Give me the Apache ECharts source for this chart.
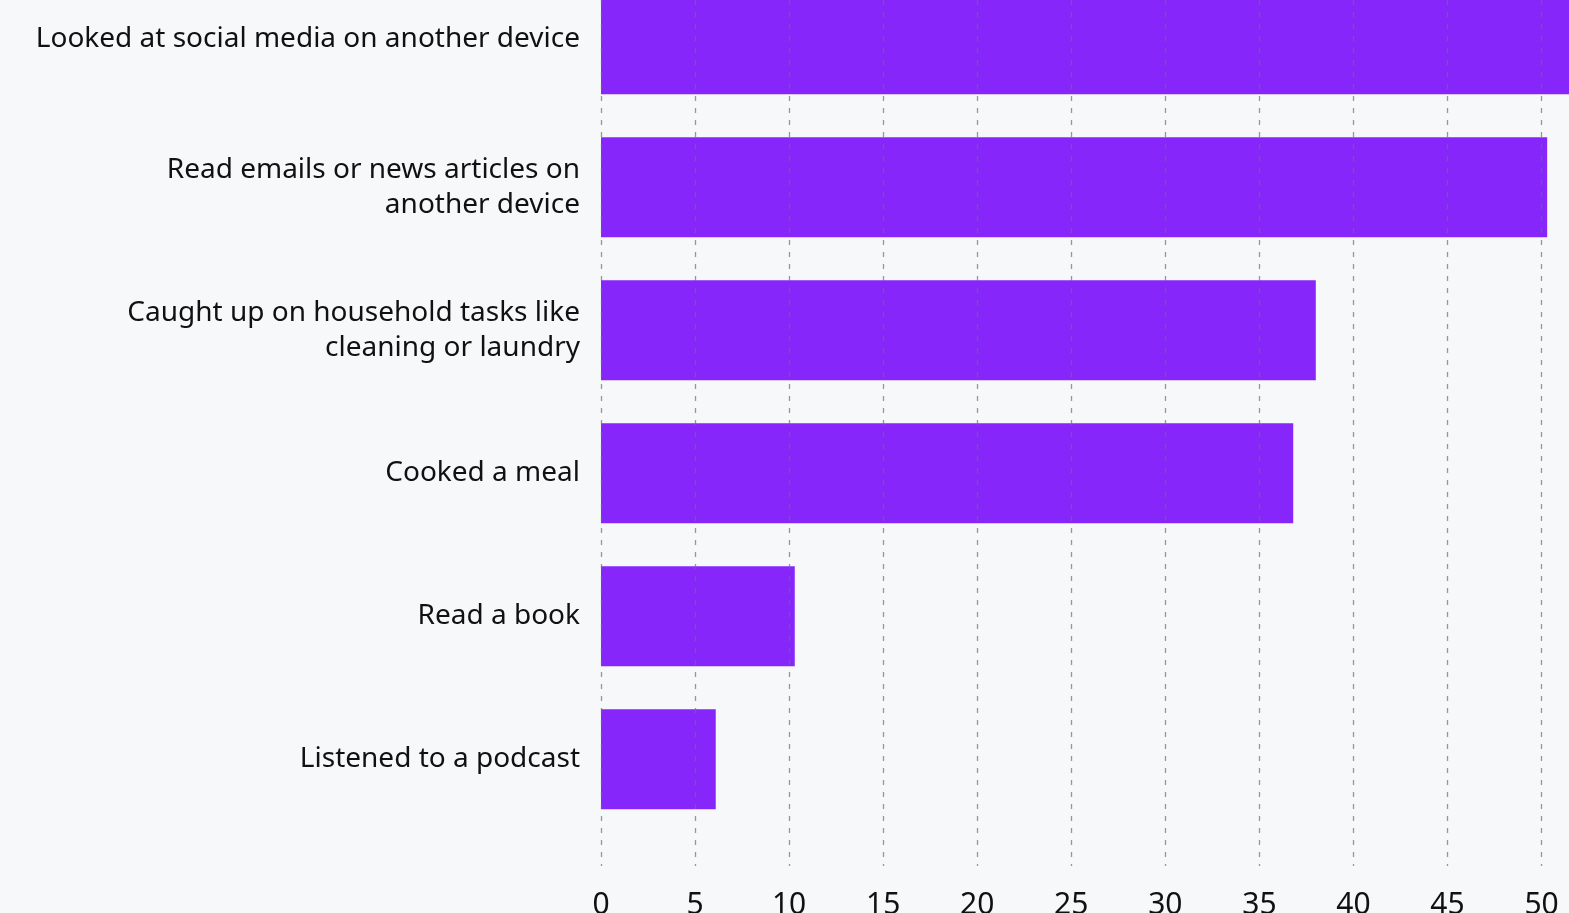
<!DOCTYPE html>
<html>
<head>
<meta charset="utf-8">
<script src="https://cdn.jsdelivr.net/npm/echarts@6/dist/echarts.min.js"></script>
<style>
html,body{margin:0;padding:0;background:#f7f8fa;}
#chart{width:1569px;height:913px;}
</style>
</head>
<body>
<div id="chart"></div>
<script>
const categories = [
  "Looked at social media on another device",
  "Read emails or news articles on\nanother device",
  "Caught up on household tasks like\ncleaning or laundry",
  "Cooked a meal",
  "Read a book",
  "Listened to a podcast"
];
const values = [52, 50.3, 38, 36.8, 10.3, 6.1];
const xMin = 0, xMax = 51.46, xInterval = 5;

const FONT = "Noto Sans";
const chart = echarts.init(document.getElementById('chart'), null, {renderer: 'canvas'});
const plotLeft = 601;

chart.setOption({
  backgroundColor: '#f7f8fa',
  animation: false,
  grid: [
    {left: plotLeft, right: 0, top: 44.3, bottom: 153.7, containLabel: false, outerBoundsMode: 'none'},
    {left: plotLeft, right: 0, top: 0, bottom: 47, containLabel: false, outerBoundsMode: 'none'}
  ],
  xAxis: [
    {gridIndex: 0, type: 'value', min: xMin, max: xMax, interval: xInterval, show: false},
    {gridIndex: 1, type: 'value', min: xMin, max: xMax, interval: xInterval, z: 10,
     axisLine: {show: false}, axisTick: {show: false},
     axisLabel: {color: '#111', fontFamily: FONT, fontSize: 30, margin: 24, showMaxLabel: false},
     splitLine: {show: true, showMaxLine: false, lineStyle: {color: 'rgba(110,110,110,0.7)', width: 1.3, type: [5, 7]}}}
  ],
  yAxis: [
    {gridIndex: 0, type: 'category', data: categories, inverse: true, boundaryGap: false,
     axisLine: {show: false}, axisTick: {show: false}, splitLine: {show: false},
     axisLabel: {color: '#111', fontFamily: FONT, fontSize: 28, lineHeight: 35, margin: 21, align: 'right',
       formatter: (v, i) => i === 0 ? '{up|' + v + '}' : v,
       rich: {up: {fontFamily: FONT, fontSize: 28, color: '#111', lineHeight: 35, padding: [0, 0, 10, 0]}}}},
    {gridIndex: 1, type: 'value', min: 0, max: 1, show: false}
  ],
  series: [{
    type: 'bar',
    xAxisIndex: 0, yAxisIndex: 0,
    data: values,
    barWidth: 100,
    clip: false,
    itemStyle: {color: '#8726fa'},
    z: 2
  }]
});
</script>
</body>
</html>
